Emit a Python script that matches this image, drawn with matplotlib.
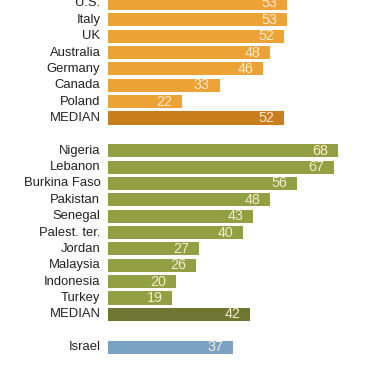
import matplotlib
matplotlib.use("Agg")
import matplotlib.pyplot as plt

plt.rcParams['font.family'] = ['Liberation Sans', 'DejaVu Sans']

# Data
west_countries = ["U.S.", "Italy", "UK", "Australia", "Germany", "Canada", "Poland", "MEDIAN"]
west_values = [53, 53, 52, 48, 46, 33, 22, 52]
other_countries = ["Nigeria", "Lebanon", "Burkina Faso", "Pakistan", "Senegal",
                   "Palest. ter.", "Jordan", "Malaysia", "Indonesia", "Turkey", "MEDIAN"]
other_values = [68, 67, 56, 48, 43, 40, 27, 26, 20, 19, 42]
israel_label = ["Israel"]
israel_values = [37]

# Styles
c_orange = "#ECA234"
c_orange_med = "#C97D1C"
c_green = "#929F42"
c_green_med = "#6F7631"
c_blue = "#7BA2C2"
c_text_in = "#F7EBD2"

labels, values, colors, rows = [], [], [], []
r = 0
for name, v in zip(west_countries, west_values):
    labels.append(name); values.append(v)
    colors.append(c_orange_med if name == "MEDIAN" else c_orange)
    rows.append(r); r += 1
r += 1
for name, v in zip(other_countries, other_values):
    labels.append(name); values.append(v)
    colors.append(c_green_med if name == "MEDIAN" else c_green)
    rows.append(r); r += 1
r += 1
for name, v in zip(israel_label, israel_values):
    labels.append(name); values.append(v)
    colors.append(c_blue)
    rows.append(r); r += 1

W, H = 378, 370
fig = plt.figure(figsize=(W / 100, H / 100), dpi=100)
ax = fig.add_axes([108 / W, 0, 1 - 108 / W, 1])

spacing = 16.36
top_px = 3.5
ax.set_ylim((H - top_px) / spacing, -top_px / spacing)
ax.set_xlim(0, (W - 108) / 3.38)

bars = ax.barh(rows, values, height=0.8, color=colors, edgecolor="none")

for b, v, lab in zip(bars, values, labels):
    yc = b.get_y() + b.get_height() / 2
    ax.annotate(str(v), xy=(v, yc), xytext=(-7, 0), textcoords="offset points",
                ha="right", va="center", color=c_text_in, fontsize=10.3)
    ax.annotate(lab, xy=(0, yc), xytext=(-5.5, 0), textcoords="offset points",
                ha="right", va="center", color="#222222", fontsize=9.4,
                annotation_clip=False)

ax.axis("off")
fig.savefig("out.png", dpi=100, facecolor="white")
